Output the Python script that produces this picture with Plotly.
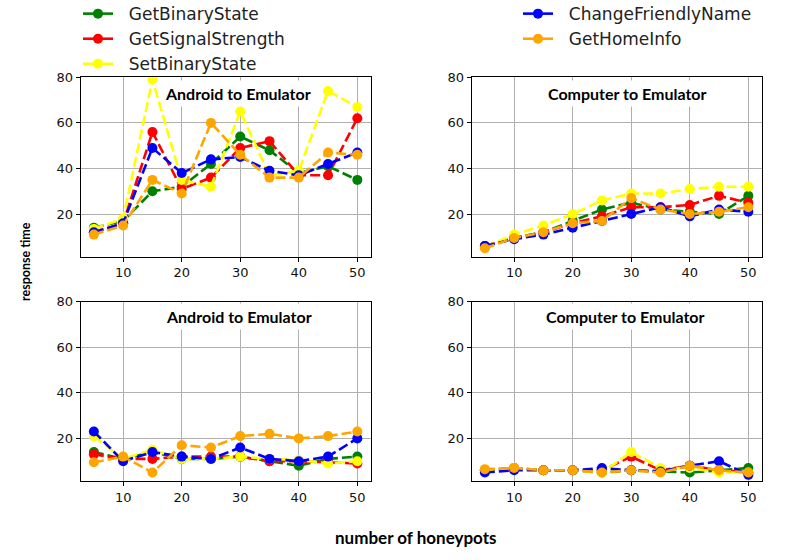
import plotly.graph_objects as go

x_vals = [5, 10, 15, 20, 25, 30, 35, 40, 45, 50]

series_names = ["GetBinaryState", "GetSignalStrength", "SetBinaryState",
                "ChangeFriendlyName", "GetHomeInfo"]
series_colors = ["#008000", "#ff0000", "#ffff00", "#0000ff", "#ffa500"]

# Panel 1: Android to Emulator (top)
tl_get_binary = [14, 17, 30, 32, 42, 54, 48, 38, 41, 35]
tl_signal = [12, 16, 56, 31, 36, 49, 52, 37, 37, 62]
tl_set_binary = [13.5, 18, 79, 35, 32, 65, 37, 39, 74, 67]
tl_change_name = [12, 16, 49, 38, 44, 45, 39, 37, 42, 47]
tl_home_info = [11, 15, 35, 29, 60, 46, 36, 36, 47, 46]

# Panel 2: Computer to Emulator (top)
tr_get_binary = [6, 9.5, 12, 17, 22, 25, 22, 21, 20, 28]
tr_signal = [6, 9.5, 12, 16, 19, 23, 23, 24, 28, 25]
tr_set_binary = [5.5, 11, 15, 20, 26, 29, 29, 31, 32, 32]
tr_change_name = [6, 9, 11, 14, 17, 20, 23, 19, 22, 21]
tr_home_info = [5, 9.5, 12, 16, 17, 27, 22, 20, 21, 23]

# Panel 3: Android to Emulator (bottom)
bl_get_binary = [14, 11, 14, 11, 11, 12, 10, 8, 11, 12]
bl_signal = [13, 11, 11, 12, 12, 12, 10, 10, 9.5, 9]
bl_set_binary = [21, 11, 15, 11, 11, 12, 11, 10.5, 9, 10]
bl_change_name = [23, 10, 14, 12, 11, 16, 11, 10, 12, 20]
bl_home_info = [9.5, 12, 5, 17, 16, 21, 22, 20, 21, 23]

# Panel 4: Computer to Emulator (bottom)
br_get_binary = [6, 7, 6, 6, 5, 6, 5.5, 5, 6, 7]
br_signal = [6, 7, 6, 6, 6, 12, 6, 8, 6, 5]
br_set_binary = [6, 7, 6, 6, 5, 14, 7, 7, 5, 5]
br_change_name = [5, 6, 6, 6, 7, 6, 5.5, 8, 10, 4]
br_home_info = [6.5, 7, 6, 6, 5, 6, 5, 8, 6, 5]

panels = [
    ([tl_get_binary, tl_signal, tl_set_binary, tl_change_name, tl_home_info], "Android to Emulator"),
    ([tr_get_binary, tr_signal, tr_set_binary, tr_change_name, tr_home_info], "Computer to Emulator"),
    ([bl_get_binary, bl_signal, bl_set_binary, bl_change_name, bl_home_info], "Android to Emulator"),
    ([br_get_binary, br_signal, br_set_binary, br_change_name, br_home_info], "Computer to Emulator"),
]

W, H = 801, 560
col_px = [(80.7, 370.5), (471.7, 761.5)]
row_px = [(77.3, 256.7), (301.7, 481.0)]
title_pos = [(0.543, 0.907), (0.536, 0.907), (0.546, 0.915), (0.532, 0.918)]

fig = go.Figure()
tick_font = dict(family="DejaVu Sans", size=13, color="#111111")
title_font = dict(family="Lato", size=16, color="#000000")

for i, (series, title) in enumerate(panels):
    r, c = divmod(i, 2)
    n = i + 1
    xa = "x" if n == 1 else f"x{n}"
    ya = "y" if n == 1 else f"y{n}"
    for j, vals in enumerate(series):
        fig.add_trace(go.Scatter(
            x=x_vals, y=vals, name=series_names[j], mode="lines+markers",
            line=dict(color=series_colors[j], width=2.6, dash="10px,4px"),
            marker=dict(color=series_colors[j], size=10),
            xaxis=xa, yaxis=ya, showlegend=False,
        ))
    x0, x1 = col_px[c]
    y0, y1 = row_px[r]
    axis_common = dict(
        showline=True, linecolor="black", linewidth=1, mirror=True,
        ticks="outside", ticklen=4, tickwidth=1, tickcolor="black",
        showgrid=True, gridcolor="#b0b0b0", gridwidth=1, zeroline=False,
        tickfont=tick_font,
    )
    fig.layout[f"xaxis{'' if n == 1 else n}"] = dict(
        domain=[x0 / W, x1 / W], anchor=ya, range=[2.75, 52.25],
        tickvals=[10, 20, 30, 40, 50], **axis_common)
    fig.layout[f"yaxis{'' if n == 1 else n}"] = dict(
        domain=[1 - y1 / H, 1 - y0 / H], anchor=xa, range=[1.3, 80],
        tickvals=[20, 40, 60, 80], **axis_common)
    tx, ty = title_pos[i]
    fig.add_annotation(
        text="<b>" + title + "</b>", xref=f"{xa} domain", yref=f"{ya} domain",
        x=tx, y=ty, showarrow=False, font=title_font, bgcolor="white",
        borderpad=3, xanchor="center", yanchor="middle",
    )

# legend entries (solid line + marker, as in the reference legend)
legend_pad = "\u00a0\u00a0"
for j, name in enumerate(series_names):
    fig.add_trace(go.Scatter(
        x=[None], y=[None], name=legend_pad + name, mode="lines+markers",
        line=dict(color=series_colors[j], width=2.6),
        marker=dict(color=series_colors[j], size=10),
        showlegend=True, legend="legend" if j < 3 else "legend2",
    ))

fig.add_annotation(text="<b>response time</b>", xref="paper", yref="paper",
                   x=25 / W, y=1 - 262 / H, textangle=-90, showarrow=False,
                   font=dict(family="Lato", size=12.5, color="black"),
                   xanchor="center", yanchor="middle")
fig.add_annotation(text="<b>number of honeypots</b>", xref="paper", yref="paper",
                   x=416 / W, y=1 - 537 / H, showarrow=False,
                   font=dict(family="Lato", size=17, color="black"),
                   xanchor="center", yanchor="middle")

legend_font = dict(family="DejaVu Sans", size=17, color="#222222")
fig.update_layout(
    width=W, height=H,
    margin=dict(l=0, r=0, t=0, b=0, autoexpand=False),
    paper_bgcolor="white", plot_bgcolor="white",
    legend=dict(x=78 / W, y=1.007, xanchor="left", yanchor="top",
                font=legend_font, bgcolor="rgba(0,0,0,0)", borderwidth=0,
                tracegroupgap=0, itemwidth=30),
    legend2=dict(x=518 / W, y=1.007, xanchor="left", yanchor="top",
                 font=legend_font, bgcolor="rgba(0,0,0,0)", borderwidth=0,
                 tracegroupgap=0, itemwidth=30),
)

fig.write_html("out.html")
